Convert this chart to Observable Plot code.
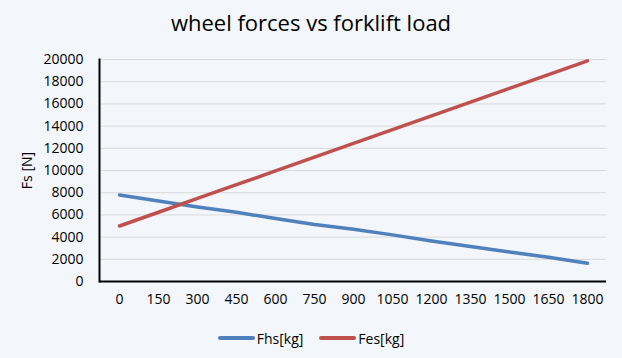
<!DOCTYPE html>
<html>
<head>
<meta charset="utf-8">
<script src="https://cdn.jsdelivr.net/npm/d3@7"></script>
<script src="https://cdn.jsdelivr.net/npm/@observablehq/plot@0.6"></script>
<style>
  html, body { margin: 0; padding: 0; }
  body { width: 622px; height: 358px; background: #f3f6fa; position: relative; overflow: hidden; font-family: "Open Sans", sans-serif; color: #000; }
  #title { position: absolute; top: 7px; left: 0; width: 622px; text-align: center; font-size: 22px; line-height: 30px; color: #000; }
  #chart { position: absolute; top: 44px; left: 0; }
  #legend { position: absolute; top: 328px; left: 0; width: 622px; height: 20px; display: flex; justify-content: center; align-items: center; font-size: 14px; }
  .item { display: flex; align-items: center; }
  .item + .item { margin-left: 16px; }
  .sw { display: inline-block; width: 37px; height: 4px; border-radius: 2px; margin-right: 2px; }
</style>
</head>
<body>
<div id="title">wheel forces vs forklift load</div>
<div id="chart"></div>
<div id="legend"></div>
<script>
const loads = ["0","150","300","450","600","750","900","1050","1200","1350","1500","1650","1800"];
const fhs = [7800, 7250, 6720, 6230, 5680, 5140, 4700, 4200, 3650, 3150, 2650, 2180, 1650];
const fes = [5000, 6240, 7480, 8720, 9960, 11200, 12440, 13680, 14920, 16160, 17400, 18640, 19880];
const seriesNames = ["Fhs[kg]", "Fes[kg]"];
const seriesColors = ["#4f81bd", "#c0504d"];
const yTicks = [0, 2000, 4000, 6000, 8000, 10000, 12000, 14000, 16000, 18000, 20000];

const rows = [];
loads.forEach((l, i) => {
  rows.push({load: l, value: fhs[i], series: seriesNames[0]});
});
loads.forEach((l, i) => {
  rows.push({load: l, value: fes[i], series: seriesNames[1]});
});

const chart = Plot.plot({
  width: 622,
  height: 276,
  marginTop: 15,
  marginBottom: 39,
  marginLeft: 99,
  marginRight: 16,
  style: {background: "transparent", fontFamily: "Open Sans", fontSize: "14px", color: "#000"},
  x: {type: "point", domain: loads, padding: 0.5},
  y: {domain: [0, 20000]},
  color: {domain: seriesNames, range: seriesColors},
  marks: [
    Plot.gridY(yTicks, {stroke: "#d9d9d9", strokeOpacity: 1, strokeWidth: 1}),
    Plot.axisY(yTicks, {tickSize: 0, tickPadding: 16, tickFormat: d => String(d), label: "Fs [N]", labelAnchor: "center", labelArrow: "none", labelOffset: 77}),
    Plot.axisX({tickSize: 0, tickPadding: 13, label: null}),
    Plot.line(rows, {x: "load", y: "value", z: "series", stroke: "series", strokeWidth: 3.5, strokeLinecap: "round", strokeLinejoin: "round"}),
    Plot.frame({anchor: "left", stroke: "#000", strokeWidth: 2}),
    Plot.ruleY([0], {stroke: "#000", strokeWidth: 2})
  ]
});
document.getElementById("chart").appendChild(chart);

const legend = document.getElementById("legend");
seriesNames.forEach((name, i) => {
  const item = document.createElement("div");
  item.className = "item";
  const sw = document.createElement("span");
  sw.className = "sw";
  sw.style.background = seriesColors[i];
  const t = document.createElement("span");
  t.textContent = name;
  item.appendChild(sw);
  item.appendChild(t);
  legend.appendChild(item);
});
</script>
</body>
</html>
